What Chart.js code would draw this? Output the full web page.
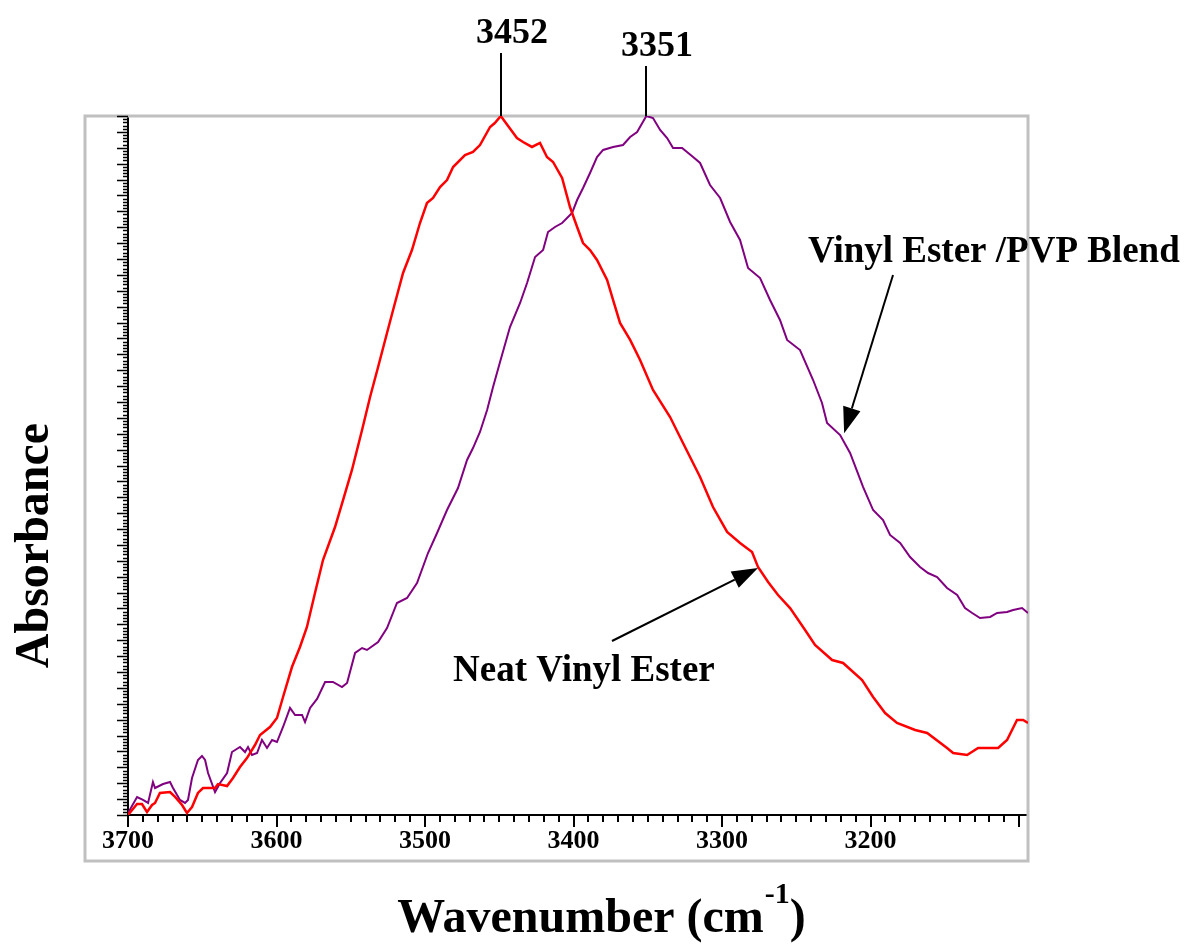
<!DOCTYPE html>
<html>
<head>
<meta charset="utf-8">
<script src="https://cdn.jsdelivr.net/npm/chart.js@4.4.1/dist/chart.umd.min.js"></script>
<style>
  body { margin: 0; background: #fff; }
  #wrap { width: 1185px; height: 948px; position: relative; }
</style>
</head>
<body>
<div id="wrap"><canvas id="ftir"></canvas></div>
<script>
// Neat vinyl ester (red)
const neatWavenumber = [3700, 3693.9, 3690.6, 3687.2, 3683.8, 3681.8, 3678.5, 3671.7, 3668.3, 3663.6, 3660.3, 3656.9, 3652.9, 3649.5, 3641.4, 3639.4, 3633.3, 3629.3, 3624.6, 3619.9, 3614.5, 3611.1, 3604.4, 3599.7, 3595.6, 3589.6, 3584.2, 3579.5, 3574.1, 3568.7, 3560.6, 3555.2, 3549.2, 3542.4, 3537.0, 3531.6, 3525.6, 3521.5, 3514.8, 3508.8, 3503.4, 3498.7, 3494.6, 3489.9, 3485.2, 3481.1, 3473.1, 3467.7, 3463.0, 3456.2, 3453.0, 3449.0, 3438.1, 3434.0, 3428.0, 3422.6, 3417.9, 3413.8, 3407.7, 3402.4, 3397.6, 3393.6, 3388.9, 3384.2, 3377.4, 3373.4, 3368.7, 3361.9, 3355.2, 3346.5, 3335.0, 3326.3, 3314.8, 3306.1, 3296.6, 3287.9, 3279.8, 3275.8, 3269.0, 3262.3, 3254.2, 3244.1, 3237.4, 3225.9, 3218.5, 3205.7, 3198.3, 3190.2, 3182.2, 3170.0, 3161.9, 3148.5, 3144.4, 3135.0, 3127.6, 3114.1, 3108.1, 3101.4, 3097.3, 3094.0];
const neatAbsorbance = [0, 0.0157, 0.0157, 0.0043, 0.0143, 0.0172, 0.0315, 0.0329, 0.0258, 0.0143, 0.0029, 0.0114, 0.0315, 0.0386, 0.0386, 0.0443, 0.0415, 0.0529, 0.0687, 0.0815, 0.1001, 0.1144, 0.1259, 0.1388, 0.1688, 0.2117, 0.2403, 0.2690, 0.3176, 0.3648, 0.4120, 0.4506, 0.4936, 0.5508, 0.5980, 0.6409, 0.6896, 0.7225, 0.7754, 0.8083, 0.8469, 0.8755, 0.8827, 0.8984, 0.9084, 0.9270, 0.9442, 0.9485, 0.9585, 0.9843, 0.9900, 1.0, 0.9685, 0.9628, 0.9557, 0.9614, 0.9413, 0.9342, 0.9113, 0.8698, 0.8412, 0.8183, 0.8083, 0.7940, 0.7654, 0.7368, 0.7039, 0.6796, 0.6509, 0.6080, 0.5694, 0.5322, 0.4835, 0.4406, 0.4049, 0.3891, 0.3763, 0.3548, 0.3333, 0.3147, 0.2961, 0.2647, 0.2432, 0.2217, 0.2175, 0.1931, 0.1688, 0.1459, 0.1316, 0.1216, 0.1173, 0.0959, 0.0887, 0.0858, 0.0959, 0.0959, 0.1073, 0.1359, 0.1359, 0.1316];

// Vinyl ester / PVP blend (purple)
const blendWavenumber = [3700, 3693.9, 3689.9, 3686.5, 3683.2, 3681.8, 3676.4, 3671.7, 3669.7, 3665.0, 3661.6, 3659.6, 3656.9, 3652.9, 3650.2, 3648.1, 3646.1, 3641.4, 3638.0, 3633.3, 3630.0, 3624.6, 3621.2, 3619.2, 3616.5, 3613.1, 3609.8, 3606.4, 3603.0, 3599.7, 3595.6, 3590.9, 3587.5, 3582.8, 3580.8, 3577.4, 3572.7, 3567.3, 3562.0, 3555.9, 3552.5, 3547.1, 3542.4, 3539.1, 3531.6, 3525.6, 3518.9, 3512.1, 3505.4, 3498.0, 3491.9, 3485.2, 3477.8, 3471.7, 3467.7, 3463.0, 3458.2, 3454.2, 3449.5, 3442.8, 3436.0, 3431.3, 3425.9, 3420.5, 3417.2, 3412.5, 3407.7, 3401.0, 3397.6, 3393.6, 3388.9, 3384.2, 3380.1, 3373.4, 3366.7, 3361.9, 3357.2, 3351.0, 3346.5, 3341.7, 3337.0, 3333.0, 3326.9, 3319.5, 3314.8, 3308.1, 3301.3, 3294.6, 3287.9, 3282.5, 3274.4, 3267.7, 3261.0, 3256.2, 3247.5, 3238.7, 3232.7, 3229.3, 3220.5, 3213.8, 3205.0, 3198.3, 3191.6, 3186.9, 3180.1, 3173.4, 3166.7, 3161.3, 3155.2, 3148.5, 3141.7, 3136.4, 3131.6, 3126.3, 3119.5, 3114.8, 3108.1, 3104.0, 3098.0, 3094.0];
const blendAbsorbance = [0.0029, 0.0257, 0.0215, 0.0172, 0.0472, 0.0386, 0.0443, 0.0472, 0.0386, 0.0215, 0.0172, 0.0215, 0.0529, 0.0787, 0.0844, 0.0787, 0.0601, 0.0329, 0.0458, 0.0601, 0.0901, 0.0973, 0.0901, 0.0973, 0.0858, 0.0887, 0.1073, 0.0959, 0.1073, 0.1044, 0.1259, 0.1531, 0.1431, 0.1431, 0.1330, 0.1531, 0.1660, 0.1903, 0.1903, 0.1831, 0.1888, 0.2318, 0.2389, 0.2361, 0.2475, 0.2675, 0.3033, 0.3105, 0.3319, 0.3748, 0.4034, 0.4363, 0.4678, 0.5079, 0.5250, 0.5479, 0.5794, 0.6123, 0.6481, 0.6981, 0.7325, 0.7611, 0.7983, 0.8083, 0.8340, 0.8412, 0.8469, 0.8612, 0.8798, 0.8970, 0.9185, 0.9413, 0.9514, 0.9557, 0.9585, 0.9700, 0.9771, 1.0, 0.9971, 0.9800, 0.9685, 0.9542, 0.9542, 0.9413, 0.9328, 0.9013, 0.8827, 0.8484, 0.8226, 0.7825, 0.7682, 0.7368, 0.7082, 0.6796, 0.6652, 0.6223, 0.5894, 0.5608, 0.5436, 0.5179, 0.4692, 0.4363, 0.4220, 0.4006, 0.3891, 0.3691, 0.3548, 0.3462, 0.3405, 0.3248, 0.3147, 0.2961, 0.2890, 0.2818, 0.2833, 0.2890, 0.2904, 0.2933, 0.2961, 0.2890];

const seriesNames = ['Neat Vinyl Ester', 'Vinyl Ester /PVP Blend'];
const peakLabels = ['3452', '3351'];
const xLabelValues = [3700, 3600, 3500, 3400, 3300, 3200];
const xTickValues = [];
for (let v = 3700; v >= 3100; v -= 10) xTickValues.push(v);

const serif = "'Liberation Serif', 'Times New Roman', serif";

const toPoints = (xs, ys) => xs.map((x, i) => ({ x: x, y: ys[i] }));

// frame, tick marks, peak markers, arrows and axis titles
const decorPlugin = {
    id: 'decor',
    beforeDatasetsDraw(chart) {
        const { ctx, chartArea } = chart;
        ctx.save();
        ctx.strokeStyle = '#c0c0c0';
        ctx.lineWidth = 3;
        ctx.strokeRect(chartArea.left - 43, chartArea.top, chartArea.right - chartArea.left + 43, chartArea.bottom - chartArea.top + 46);
        ctx.restore();
    },
    afterDraw(chart) {
        const { ctx, chartArea } = chart;
        const xs = chart.scales.x, ys = chart.scales.y;
        ctx.save();
        ctx.strokeStyle = '#000';
        ctx.fillStyle = '#000';

        // x tick marks
        ctx.lineWidth = 2;
        xs.ticks.forEach(t => {
            const px = Math.round(xs.getPixelForValue(t.value));
            const len = t.value % 100 === 0 ? 12 : 7;
            ctx.beginPath();
            ctx.moveTo(px, chartArea.bottom);
            ctx.lineTo(px, chartArea.bottom + len);
            ctx.stroke();
        });

        // y tick marks
        ctx.lineWidth = 1.5;
        ys.ticks.forEach(t => {
            const py = Math.round(ys.getPixelForValue(t.value)) + 0.5;
            const major = Math.round(t.value * 220) % 5 === 0;
            ctx.beginPath();
            ctx.moveTo(chartArea.left, py);
            ctx.lineTo(chartArea.left - (major ? 11 : 5), py);
            ctx.stroke();
        });

        // peak markers
        ctx.lineWidth = 2;
        ctx.font = 'bold 36px ' + serif;
        ctx.textAlign = 'center';
        ctx.textBaseline = 'alphabetic';
        chart.data.datasets.forEach((ds, i) => {
            let best = ds.data[0];
            ds.data.forEach(p => { if (p.y > best.y) best = p; });
            const px = Math.round(xs.getPixelForValue(best.x));
            const lineTop = i === 0 ? 53 : 66;
            const base = i === 0 ? 43 : 56;
            ctx.beginPath();
            ctx.moveTo(px, chartArea.top);
            ctx.lineTo(px, lineTop);
            ctx.stroke();
            ctx.fillText(peakLabels[i], px + 11, base);
        });

        // callout arrows
        const arrow = (x1, y1, x2, y2) => {
            const ang = Math.atan2(y2 - y1, x2 - x1);
            const hl = 26, hw = 9;
            const bx = x2 - hl * Math.cos(ang), by = y2 - hl * Math.sin(ang);
            ctx.lineWidth = 2;
            ctx.beginPath();
            ctx.moveTo(x1, y1);
            ctx.lineTo(bx, by);
            ctx.stroke();
            ctx.beginPath();
            ctx.moveTo(x2, y2);
            ctx.lineTo(bx + hw * Math.sin(ang), by - hw * Math.cos(ang));
            ctx.lineTo(bx - hw * Math.sin(ang), by + hw * Math.cos(ang));
            ctx.closePath();
            ctx.fill();
        };
        arrow(xs.getPixelForValue(3184.9), ys.getPixelForValue(0.7725), xs.getPixelForValue(3217.8), ys.getPixelForValue(0.546));
        arrow(xs.getPixelForValue(3374.1), ys.getPixelForValue(0.2489), xs.getPixelForValue(3275.8), ys.getPixelForValue(0.3534));

        ctx.font = 'bold 37px ' + serif;
        ctx.textAlign = 'left';
        ctx.fillText(seriesNames[1], xs.getPixelForValue(3242.1), ys.getPixelForValue(0.7911));
        ctx.fillText(seriesNames[0], xs.getPixelForValue(3481.1), ys.getPixelForValue(0.1917));

        // axis titles
        ctx.font = 'bold 48px ' + serif;
        ctx.textAlign = 'center';
        ctx.save();
        ctx.translate(48, (chartArea.top + chartArea.bottom) / 2 + 80);
        ctx.rotate(-Math.PI / 2);
        ctx.fillText('Absorbance', 0, 0);
        ctx.restore();

        const main = 'Wavenumber (cm', sup = '-1', close = ')';
        ctx.font = 'bold 48px ' + serif;
        const wMain = ctx.measureText(main).width, wClose = ctx.measureText(close).width;
        ctx.font = 'bold 30px ' + serif;
        const wSup = ctx.measureText(sup).width;
        let x0 = 601 - (wMain + wSup + wClose) / 2;
        ctx.textAlign = 'left';
        ctx.font = 'bold 48px ' + serif;
        ctx.fillText(main, x0, 932);
        ctx.font = 'bold 30px ' + serif;
        ctx.fillText(sup, x0 + wMain + 1, 903);
        ctx.font = 'bold 48px ' + serif;
        ctx.fillText(close, x0 + wMain + wSup + 1, 932);
        ctx.restore();
    }
};

new Chart(document.getElementById('ftir'), {
    type: 'line',
    data: {
        datasets: [
            {
                label: seriesNames[0],
                data: toPoints(neatWavenumber, neatAbsorbance),
                borderColor: '#ff0000',
                borderWidth: 2.5,
                pointRadius: 0,
                tension: 0
            },
            {
                label: seriesNames[1],
                data: toPoints(blendWavenumber, blendAbsorbance),
                borderColor: '#800080',
                borderWidth: 2,
                pointRadius: 0,
                tension: 0
            }
        ]
    },
    plugins: [decorPlugin],
    options: {
        responsive: true,
        maintainAspectRatio: false,
        animation: false,
        layout: { padding: { left: 108, right: 157, top: 116, bottom: 93 } },
        plugins: { legend: { display: false }, tooltip: { enabled: false } },
        scales: {
            x: {
                type: 'linear',
                reverse: true,
                min: 3094,
                max: 3700,
                afterBuildTicks: s => { s.ticks = xTickValues.map(v => ({ value: v })); },
                afterFit: s => { s.height = 40; },
                grid: { display: false },
                border: { display: true, color: '#000', width: 2 },
                ticks: {
                    autoSkip: false,
                    maxRotation: 0,
                    padding: 3,
                    color: '#000',
                    font: { family: serif, size: 26, weight: 'bold' },
                    callback: v => (xLabelValues.includes(v) ? String(v) : '')
                }
            },
            y: {
                type: 'linear',
                min: 0,
                max: 1,
                afterBuildTicks: s => {
                    const arr = [];
                    for (let k = 0; k <= 220; k++) arr.push({ value: k / 220 });
                    s.ticks = arr;
                },
                afterFit: s => { s.width = 20; },
                grid: { display: false },
                border: { display: true, color: '#000', width: 2 },
                ticks: { display: false }
            }
        }
    }
});
</script>
</body>
</html>
